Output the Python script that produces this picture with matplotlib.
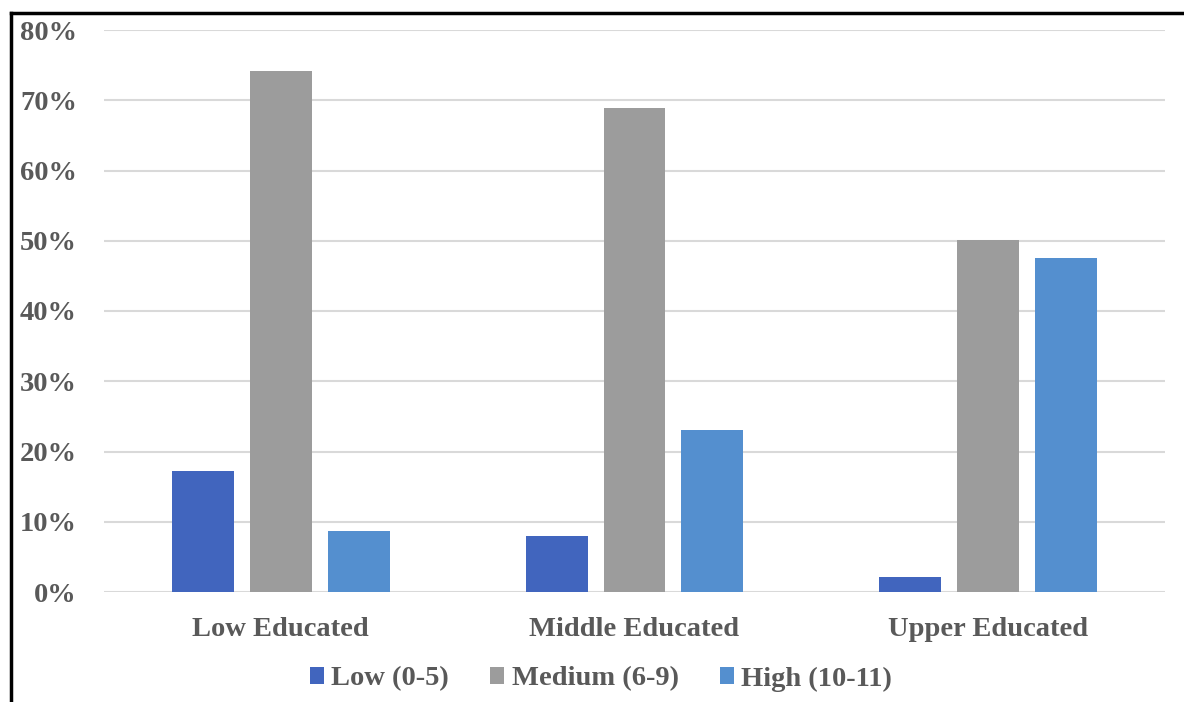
import numpy as np
import matplotlib
matplotlib.use('Agg')
import matplotlib.pyplot as plt
from matplotlib.lines import Line2D
from matplotlib.patches import Patch

# data
categories = ['Low Educated', 'Middle Educated', 'Upper Educated']
series_names = ['Low (0-5)', 'Medium (6-9)', 'High (10-11)']
low_vals = [0.172, 0.080, 0.021]
medium_vals = [0.742, 0.689, 0.501]
high_vals = [0.087, 0.231, 0.476]
y_ticks = [0, 0.1, 0.2, 0.3, 0.4, 0.5, 0.6, 0.7, 0.8]

colors = ['#4165BE', '#9C9C9C', '#548FCF']
text_color = '#595959'

plt.rcParams['font.family'] = ['Liberation Serif', 'DejaVu Serif']
plt.rcParams['font.weight'] = 'bold'

fig = plt.figure(figsize=(11.84, 7.02), dpi=100)
ax = fig.add_axes([104 / 1184, 1 - 592 / 702, (1165 - 104) / 1184, (592 - 30) / 702])

x = np.arange(len(categories))
width = 0.175
step = 0.22
for i, vals in enumerate([low_vals, medium_vals, high_vals]):
    ax.bar(x + (i - 1) * step, vals, width, color=colors[i], label=series_names[i], zorder=3)

ax.set_xlim(-0.5, 2.5)
ax.set_ylim(0, 0.8)
ax.set_yticks(y_ticks)
ax.set_yticklabels([f'{int(round(t * 100))}%' for t in y_ticks])
ax.set_xticks(x)
ax.set_xticklabels(categories)
ax.tick_params(axis='both', length=0, labelsize=20.5, labelcolor=text_color)
ax.tick_params(axis='y', pad=19.5)
ax.tick_params(axis='x', pad=18)
ax.grid(axis='y', color='#D9D9D9', linewidth=1.5, zorder=0)
for s in ax.spines.values():
    s.set_visible(False)

handles = [Patch(facecolor=c, edgecolor='none') for c in colors]
fig.legend(handles, series_names, loc='center', bbox_to_anchor=(601 / 1184, 1 - 679 / 702),
           ncol=3, frameon=False, fontsize=20.5, labelcolor=text_color,
           handlelength=0.5, handleheight=0.5, handletextpad=0.25, columnspacing=1.45)

# frame lines on left and top
fig.add_artist(Line2D([11 / 1184, 11 / 1184], [0, 1 - 13 / 702], color='black', linewidth=2.5,
                      transform=fig.transFigure))
fig.add_artist(Line2D([11 / 1184, 1], [1 - 13 / 702, 1 - 13 / 702], color='black', linewidth=2.5,
                      transform=fig.transFigure))

plt.savefig('out.png', dpi=100)
